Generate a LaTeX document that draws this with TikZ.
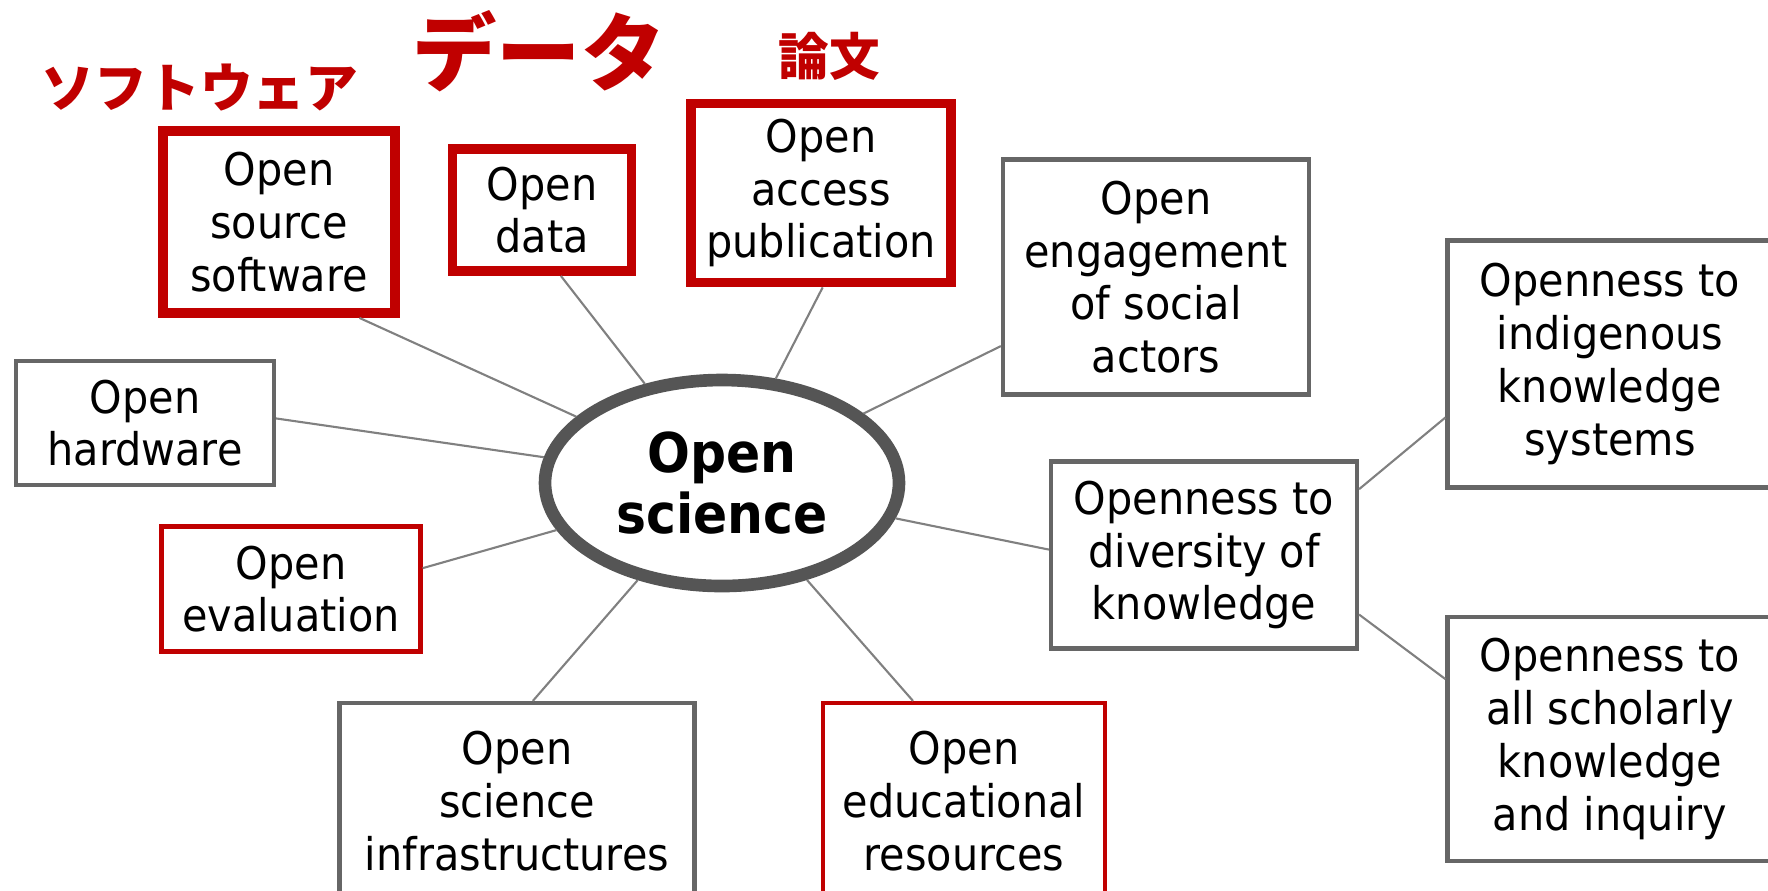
\documentclass[tikz,border=0pt]{standalone}
\usepackage{fontspec}
\setmainfont{DejaVu Sans}[FakeStretch=0.92]
\newfontfamily\jpfont{Noto Sans CJK JP}
\usetikzlibrary{shapes}
\usetikzlibrary{shapes.geometric}
\definecolor{osred}{HTML}{C00000}
\definecolor{osgray}{HTML}{666666}
\definecolor{osdark}{HTML}{555555}
\tikzset{box/.style = {
rectangle, draw=osgray, line width=1.2pt, fill=white, align=center,
inner sep=0pt, font=\fontsize{12.8}{15}\selectfont
}}
\tikzset{rbox/.style = {box, draw=osred, line width=2.8pt}}
\tikzset{tbox/.style = {box, draw=osred}}
\tikzset{link/.style = {draw=gray, line width=0.6pt}}
\tikzset{jp/.style = {text=osred, font=\jpfont\bfseries}}

\begin{document}
\begin{tikzpicture}[x=0.1mm,y=-0.1mm]
\useasboundingbox (0,0) rectangle (1768,890);

\node[ellipse,draw=osdark,line width=3.6pt,align=center,inner sep=0pt,minimum width=35.4mm,minimum height=20.6mm,font=\bfseries\fontsize{15.6}{17.6}\selectfont] (sci) at (722,483){Open\\science};

\node[rbox,minimum width=23.2mm,minimum height=18.2mm] (soft) at (279,222){Open\\source\\software};
\node[rbox,minimum width=17.9mm,minimum height=12.2mm] (data) at (542,210){Open\\data};
\node[rbox,minimum width=26mm,minimum height=17.9mm] (access) at (821,193){Open\\access\\publication};
\node[box,minimum width=30.6mm,minimum height=23.5mm] (engage) at (1156,277){Open\\engagement\\of social\\actors};
\node[box,minimum width=32.5mm,minimum height=24.7mm] (indig) at (1610,364){Openness to\\indigenous\\knowledge\\systems};
\node[box,minimum width=30.6mm,minimum height=18.7mm] (div) at (1204,555){Openness to\\diversity of\\knowledge};
\node[box,minimum width=32.5mm,minimum height=24.4mm] (schol) at (1610,739){Openness to\\all scholarly\\knowledge\\and inquiry};
\node[box,minimum width=25.8mm,minimum height=12.4mm] (hw) at (145,423){Open\\hardware};
\node[tbox,minimum width=25.9mm,minimum height=12.5mm] (eval) at (291,589){Open\\evaluation};
\node[box,minimum width=35.5mm,minimum height=19.6mm] (infra) at (517,801){Open\\science\\infrastructures};
\node[tbox,minimum width=28.2mm,minimum height=19.6mm] (educ) at (964,801){Open\\educational\\resources};

\node[jp] (jsoft) at (200,88){\fontsize{15}{18}\selectfont ソフトウェア};
\node[jp] (jdata) at (539,51){\fontsize{24}{28}\selectfont データ};
\node[jp] (jpaper) at (829,56){\fontsize{14.4}{18}\selectfont 論文};

\draw[link] (soft.-50) -- (sci);
\draw[link] (data.-74) -- (sci);
\draw[link] (access.-89) -- (sci);
\draw[link] (engage.204) -- (sci);
\draw[link] (hw.2) -- (sci);
\draw[link] (eval.9) -- (sci);
\draw[link] (infra.81) -- (sci);
\draw[link] (educ.117) -- (sci);
\draw[link] (div.178) -- (sci);
\draw[link] (div.23) -- (indig.198);
\draw[link] (div.-21) -- (schol.160);

\end{tikzpicture}
\end{document}
